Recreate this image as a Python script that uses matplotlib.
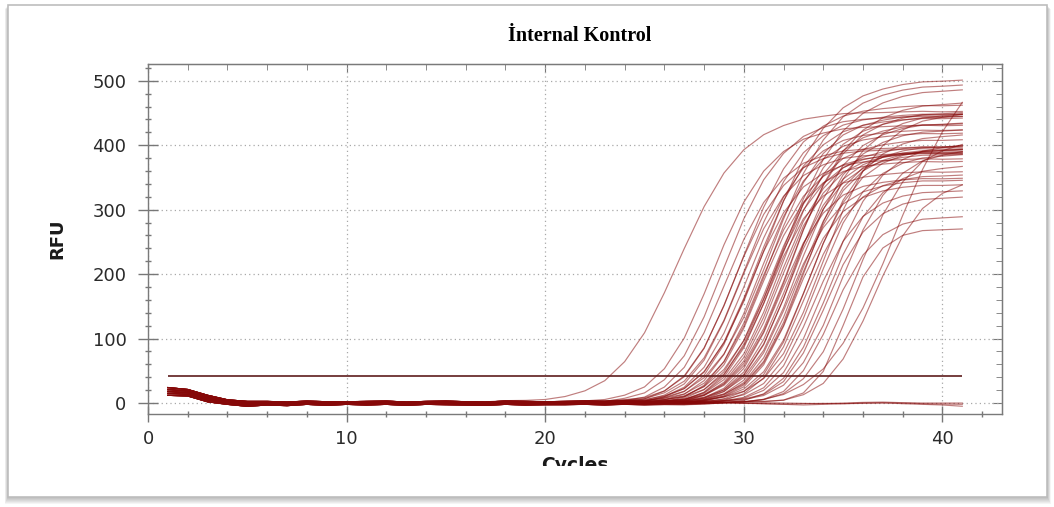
import numpy as np
import matplotlib
matplotlib.use("Agg")
import matplotlib.pyplot as plt
from matplotlib.patches import Rectangle
from matplotlib.ticker import MultipleLocator

# cycles 1..41
cycles = np.arange(1, 42)
threshold = 42

# amplifying wells: threshold cycle, end plateau (RFU), curve width (cycles)
ct = [23.4, 25.7, 26.2, 26.6, 26.9, 27.1, 27.3, 27.4, 27.6, 27.7,
      27.9, 28.0, 28.1, 28.2, 28.4, 28.5, 28.6, 28.7, 28.8, 28.9,
      29.0, 29.1, 29.2, 29.3, 29.4, 29.5, 29.6, 29.7, 29.8, 29.9,
      30.0, 30.1, 30.2, 30.3, 30.4, 30.5, 30.6, 30.8, 30.9, 31.0,
      31.2, 31.4, 31.6, 31.8, 32.0, 32.3, 32.5, 32.8, 33.1, 33.5,
      33.9, 34.4]
plateau = [450, 430, 445, 398, 465, 392, 448, 388, 425, 505,
           440, 378, 495, 420, 390, 446, 374, 488, 410, 393,
           443, 358, 434, 400, 470, 387, 451, 349, 395, 438,
           384, 424, 346, 401, 453, 391, 338, 418, 396, 357,
           449, 386, 330, 404, 372, 318, 394, 290, 412, 560,
           268, 350]
width = [1.78, 1.55, 1.55, 1.45, 1.6, 1.4, 1.55, 1.4, 1.5, 1.72,
         1.5, 1.35, 1.7, 1.45, 1.4, 1.5, 1.35, 1.68, 1.45, 1.4,
         1.5, 1.3, 1.45, 1.4, 1.6, 1.35, 1.5, 1.3, 1.4, 1.45,
         1.35, 1.45, 1.3, 1.4, 1.5, 1.35, 1.25, 1.45, 1.35, 1.3,
         1.5, 1.35, 1.25, 1.4, 1.35, 1.2, 1.4, 1.15, 1.45, 2.05,
         0.9, 1.35]
shape = 0.7

# baseline band, five edges from top to bottom
base_1 = [24, 21, 12, 5, 2.5, 2.5, 1.5, 3, 2, 2, 2.5, 3, 1.5, 2.5, 3, 2, 1.5, 3,
          2.5, 2, 2.5, 3, 2.5, 3, 2, 2.5, 2, 2.5, 3, 2.5, 2, 1.5, 2.5, 2, 3, 2.5,
          2, 2.5, 3, 2, 2.5]
base_2 = [21, 18.5, 9.5, 3.5, 1, 1, 0, 1.5, 0.5, 1, 1, 1.5, 0, 1, 1.5, 0.5, 0,
          1.5, 1, 0.5, 1, 1.5, 1, 1.5, 0.5, 1, 0.5, 1, 1.5, 1, 0.5, 0, 1, 0.5,
          1.5, 1, 0.5, 1, 1.5, 0.5, 1]
base_3 = [18, 16, 7, 2, -1, 0, -1.5, 0.5, -1, 0, -0.5, 0.5, -1, 0, 0.5, -0.5,
          -1, 0.5, -0.5, 0, 0, 0.5, -0.5, 0.5, -0.5, 0, -0.5, 0, 0.5, 0, -0.5,
          -1, 0, -0.5, 0.5, 0, -0.5, 0, 0.5, -0.5, 0]
base_4 = [15, 13.5, 4.5, 0, -3, -1.5, -2.5, -0.5, -2, -1, -1.5, -0.5, -2, -1,
          -1, -1.5, -2, -0.5, -1.5, -1, -1, -0.5, -1.5, -0.5, -1.5, -1, -1.5,
          -1, -0.5, -1, -1.5, -2, -1, -1.5, -0.5, -1, -1.5, -1, -0.5, -1.5, -1]
base_5 = [12, 11, 2, -2, -5, -3, -4, -2, -3.5, -2, -3, -2, -3.5, -2, -2.5, -3,
          -3.5, -2, -3, -2.5, -2.5, -2, -3, -2, -3, -2.5, -3, -2.5, -2, -2.5,
          -3, -3.5, -2.5, -3, -2, -2.5, -3, -2.5, -2, -3, -2.5]
baselines = [base_1, base_2, base_3, base_4, base_5]

# non-amplifying wells, cycles 30..41 (earlier cycles follow the middle baseline)
flat_tails = [
    [0, -1, -2, -3, -2, -1, 0, 0.5, -1, -2, -3, -5],
    [0, 0.5, 0, -0.5, -1, 0, 1, 1.5, 0.5, 0, 0, 0],
    [-0.5, -1, -1.5, -1, -0.5, -1, -0.5, 0, 0, -1, -1.5, -2],
]

W, H = 1054, 507
fig = plt.figure(figsize=(W / 100, H / 100), dpi=100, facecolor="white")

# framed picture with a soft shadow
x0, y0 = 8 / W, 1 - 497 / H
fw, fh = 1039 / W, 492 / H
for off in range(1, 8):
    fig.patches.append(Rectangle((x0 - off / W * 0.5, y0 - off / H), fw + off / W, fh + off / H * 0.5,
                                 transform=fig.transFigure, facecolor="black",
                                 edgecolor="none", alpha=0.04, zorder=-3))
fig.patches.append(Rectangle((x0, y0), fw, fh, transform=fig.transFigure,
                             facecolor="white", edgecolor="#bdbdbd", lw=1.2, zorder=-2))

ax = fig.add_axes([148 / W, 1 - 414 / H, (1002 - 148) / W, 350 / H])
ax.set_facecolor("white")

curve_color = "#860808"
for i in range(len(ct)):
    P, k = plateau[i], width[i]
    zt = -np.log(((threshold / P) ** -shape - 1) / shape)
    c = ct[i] - k * zt
    amp = P * (1 + shape * np.exp(-(cycles - c) / k)) ** (-1 / shape)
    y = np.array(baselines[i % 5]) + amp
    ax.plot(cycles, y, color=curve_color, lw=0.85, alpha=0.52)

for tail in flat_tails:
    y = np.array(base_3[:29] + tail)
    ax.plot(cycles, y, color=curve_color, lw=0.85, alpha=0.52)

ax.hlines(threshold, cycles[0], cycles[-1], color="#5e1c1c", lw=1.2, zorder=5)

ax.set_xlim(0, 43)
ax.set_ylim(-17, 526)
ax.set_xticks([0, 10, 20, 30, 40])
ax.set_yticks([0, 100, 200, 300, 400, 500])
ax.xaxis.set_minor_locator(MultipleLocator(2))
ax.yaxis.set_minor_locator(MultipleLocator(20))
ax.grid(True, which="major", linestyle=(0, (1, 2.5)), color="#a8a8a8", lw=0.9)

for s in ax.spines.values():
    s.set_color("#7a7a7a")
    s.set_linewidth(1.0)

ax.tick_params(axis="x", which="major", direction="inout", length=11, width=1,
               color="#777777", pad=6, labelsize=13, labelcolor="#2a2a2a")
ax.tick_params(axis="y", which="major", direction="inout", length=15, width=1,
               color="#777777", pad=8, labelsize=13, labelcolor="#2a2a2a")
ax.tick_params(which="minor", direction="inout", length=5, width=1, color="#777777")
ax.tick_params(top=False, right=False)

sec_x = ax.secondary_xaxis("top")
sec_x.set_xticks([0, 10, 20, 30, 40])
sec_x.xaxis.set_minor_locator(MultipleLocator(2))
sec_x.tick_params(which="major", direction="in", length=6, color="#777777", labeltop=False)
sec_x.tick_params(which="minor", direction="in", length=4, color="#777777")
sec_x.spines["top"].set_color("#7a7a7a")

sec_y = ax.secondary_yaxis("right")
sec_y.set_yticks([0, 100, 200, 300, 400, 500])
sec_y.yaxis.set_minor_locator(MultipleLocator(20))
sec_y.tick_params(which="major", direction="in", length=7, color="#777777", labelright=False)
sec_y.tick_params(which="minor", direction="in", length=4, color="#777777")
sec_y.spines["right"].set_color("#7a7a7a")

fig.text(580 / W, 1 - 41 / H, "İnternal Kontrol", ha="center", va="baseline",
         fontsize=14.5, fontweight="bold", family="Liberation Serif", color="black")
fig.text(57 / W, 1 - 239 / H, "RFU", rotation=90, ha="center", va="center",
         fontsize=13, fontweight="bold", color="#1a1a1a")
fig.text(574.5 / W, 1 - 471 / H, "Cycles", ha="center", va="baseline",
         fontsize=13.5, fontweight="bold", color="#1a1a1a", zorder=3)
# the original screenshot is cropped through the x-axis label
fig.patches.append(Rectangle((500 / W, 1 - 492 / H), 150 / W, 26 / H,
                             transform=fig.transFigure, facecolor="white",
                             edgecolor="none", zorder=4))

fig.savefig("out.png", dpi=100, facecolor="white")
